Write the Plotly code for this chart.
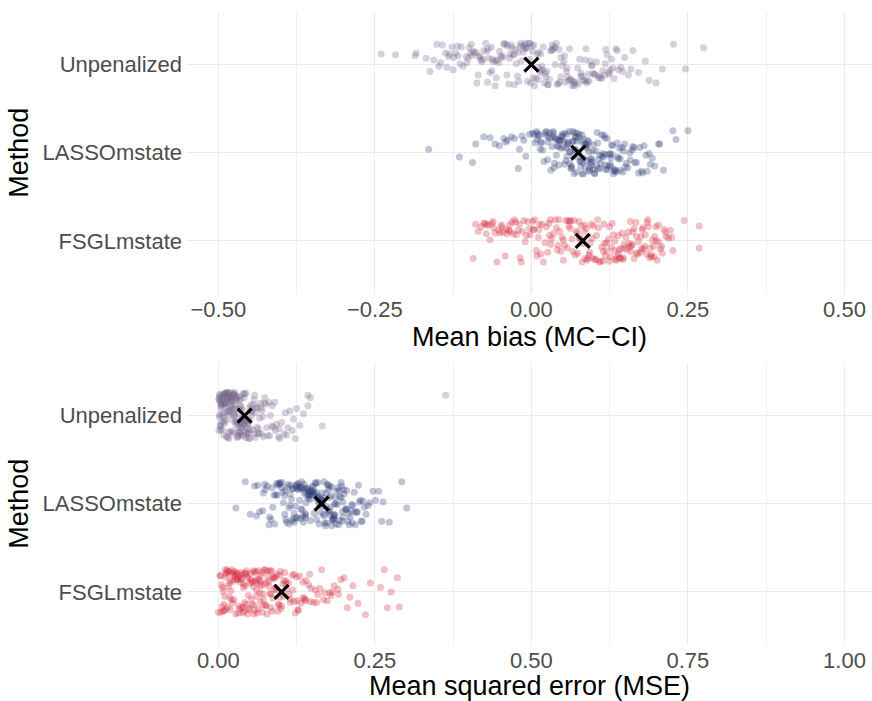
import plotly.graph_objects as go

# ---------------- data ----------------
methods = ["FSGLmstate", "LASSOmstate", "Unpenalized"]   # bottom -> top
method_pos = [1, 2, 3]
colors = ["#d42a40", "#2d3a76", "#76668e"]

bias_ticks = [-0.5, -0.25, 0.0, 0.25, 0.5]
bias_ticktext = ["\u22120.50", "\u22120.25", "0.00", "0.25", "0.50"]
mse_ticks = [0.0, 0.25, 0.5, 0.75, 1.0]
mse_ticktext = ["0.00", "0.25", "0.50", "0.75", "1.00"]

# means (bias panel, MSE panel) in the order of `methods`
bias_means = [0.082, 0.075, 0.000]
mse_means = [0.101, 0.165, 0.042]

unpen_bias = [
    0.012, -0.087, 0.104, -0.031, 0.056, -0.142, 0.003, 0.077, -0.058, 0.121,
    -0.109, 0.034, -0.006, 0.149, -0.073, 0.091, -0.024, 0.018, -0.127, 0.062,
    0.227, -0.045, 0.108, -0.093, 0.041, -0.016, 0.135, -0.066, 0.009, -0.184,
    0.083, -0.038, 0.057, -0.117, 0.026, 0.162, -0.081, 0.047, -0.002, 0.114,
    -0.052, 0.071, -0.137, 0.022, -0.099, 0.096, -0.011, 0.132, -0.068, 0.005,
    0.246, -0.029, 0.067, -0.151, 0.038, -0.085, 0.119, -0.047, 0.088, -0.021,
    0.014, -0.112, 0.143, -0.062, 0.029, -0.004, 0.101, -0.131, 0.052, -0.036,
    -0.240, 0.079, -0.018, 0.126, -0.076, 0.045, -0.104, 0.017, 0.188, -0.055,
    0.061, -0.027, 0.094, -0.162, 0.033, -0.049, 0.111, -0.008, 0.074, -0.121,
    0.275, -0.071, 0.021, -0.035, 0.155, -0.096, 0.049, -0.013, 0.085, -0.145,
    0.007, 0.128, -0.063, 0.036, -0.217, 0.069, -0.025, 0.098, -0.084, 0.011,
    -0.043, 0.117, -0.114, 0.054, 0.002, -0.156, 0.081, -0.032, 0.139, -0.069,
    0.025, -0.091, 0.063, 0.209, -0.014, 0.043, -0.124, 0.107, -0.057, 0.031,
    -0.186, 0.089, -0.040, 0.015, 0.124, -0.079, 0.058, -0.007, 0.199, -0.101,
    -0.022, 0.047, -0.118, 0.092, -0.061, 0.016, 0.137, -0.009, 0.068, -0.095,
    0.038, -0.148, 0.112, -0.034, 0.004, 0.079, -0.077, 0.027, -0.051, 0.159,
    -0.103, 0.059, -0.017, 0.101, -0.132, 0.044, -0.001, 0.086, -0.064, 0.023,
    0.171, -0.044, 0.130, -0.088, 0.011, -0.028, 0.065, -0.168, 0.097, -0.011,
    0.032, -0.125, 0.053, -0.070, 0.118, 0.001, -0.039, 0.182, -0.097, 0.075,
    -0.056, 0.019, 0.146, -0.082, 0.040, -0.135, 0.087, -0.020, 0.124, -0.003,
]
unpen_bias_jit = [
    0.14, -0.21, 0.03, 0.19, -0.08, 0.22, -0.15, 0.06, -0.24, 0.11,
    -0.02, 0.17, -0.19, 0.08, 0.24, -0.11, 0.01, -0.06, 0.20, -0.17,
    0.23, 0.09, -0.13, 0.15, -0.22, 0.04, 0.18, -0.09, 0.12, 0.13,
    -0.18, 0.21, -0.04, 0.10, -0.23, 0.16, 0.05, -0.14, 0.24, -0.07,
    0.02, -0.20, 0.13, -0.10, 0.19, -0.01, 0.22, -0.16, 0.07, -0.24,
    -0.05, 0.11, -0.19, 0.23, 0.00, -0.12, 0.17, 0.08, -0.21, 0.14,
    -0.09, 0.20, -0.03, 0.06, -0.17, 0.24, -0.11, 0.12, 0.03, -0.22,
    0.12, -0.14, 0.21, -0.06, 0.16, -0.20, 0.09, -0.02, -0.18, 0.05,
    0.18, -0.23, 0.04, -0.08, 0.22, 0.10, -0.15, 0.19, -0.04, 0.13,
    0.19, 0.15, -0.21, 0.07, -0.12, 0.23, -0.01, 0.14, -0.18, 0.02,
    -0.16, 0.06, -0.07, 0.20, 0.11, -0.24, 0.17, -0.10, 0.09, -0.03,
    0.24, -0.12, 0.01, -0.20, 0.15, 0.05, -0.13, 0.22, -0.06, 0.18,
    -0.08, 0.13, -0.17, -0.05, 0.21, -0.22, 0.08, -0.15, 0.04, 0.16,
    0.10, -0.19, 0.23, 0.12, -0.09, 0.03, -0.14, 0.19, -0.21, 0.07,
    -0.13, 0.08, 0.21, -0.19, 0.03, -0.07, 0.16, 0.24, -0.22, 0.10,
    0.19, -0.02, -0.16, 0.12, 0.22, -0.10, 0.06, -0.23, 0.15, -0.05,
    0.02, -0.18, 0.24, -0.11, 0.09, 0.17, -0.21, 0.05, 0.20, -0.14,
    -0.09, 0.23, -0.04, 0.14, -0.17, 0.11, -0.24, 0.07, -0.01, 0.18,
    0.16, -0.06, 0.10, -0.20, 0.01, 0.21, -0.12, 0.04, 0.13, -0.22,
    -0.15, 0.20, -0.08, 0.09, 0.24, -0.03, 0.18, -0.19, -0.11, 0.06,
]

lasso_bias = [
    0.082, 0.013, 0.141, -0.021, 0.067, 0.109, 0.035, 0.176, 0.058, 0.094,
    0.121, -0.164, 0.044, 0.073, 0.188, 0.006, 0.131, 0.087, 0.027, 0.152,
    0.061, 0.099, -0.038, 0.115, 0.049, 0.079, 0.203, 0.018, 0.136, 0.071,
    -0.115, 0.092, 0.055, 0.164, 0.031, 0.105, -0.009, 0.084, 0.126, 0.041,
    0.226, 0.064, 0.147, 0.011, 0.097, 0.052, 0.171, -0.094, 0.077, 0.118,
    0.036, 0.089, 0.193, 0.024, 0.133, 0.069, -0.027, 0.111, 0.058, 0.158,
    0.002, 0.101, 0.045, 0.183, -0.089, 0.075, 0.123, 0.033, 0.091, 0.062,
    0.250, 0.015, 0.139, 0.081, -0.051, 0.107, 0.047, 0.168, 0.029, 0.096,
    0.057, -0.076, 0.128, 0.072, 0.211, 0.039, 0.114, 0.004, 0.086, 0.145,
    0.066, 0.020, 0.178, -0.066, 0.103, 0.053, 0.137, 0.083, -0.015, 0.119,
    0.231, 0.043, 0.093, 0.161, 0.010, 0.078, 0.125, -0.044, 0.068, 0.149,
    0.026, 0.112, 0.059, 0.197, 0.088, -0.003, 0.134, 0.048, 0.205, 0.074,
    0.117, 0.037, -0.032, 0.157, 0.063, 0.099, 0.022, 0.142, 0.080, 0.185,
    0.051, 0.127, 0.008, 0.106, -0.019, 0.165, 0.070, 0.040, 0.130, 0.090,
    0.071, 0.118, 0.034, 0.096, 0.053, 0.142, 0.087, 0.009, 0.129, 0.064,
    0.101, 0.045, 0.173, 0.078, 0.023, 0.113, 0.060, 0.150, 0.092, 0.038,
    0.084, 0.132, -0.012, 0.069, 0.107, 0.050, 0.190, 0.076, 0.121, 0.016,
    0.095, 0.057, 0.138, 0.030, 0.083, 0.162, -0.041, 0.104, 0.066, 0.125,
    0.048, 0.089, 0.014, 0.146, 0.073, 0.110, 0.035, 0.180, 0.061, 0.098,
    0.127, 0.042, 0.081, -0.058, 0.116, 0.067, 0.154, 0.026, 0.093, 0.056,
]
lasso_bias_jit = [
    -0.11, 0.20, 0.05, -0.18, 0.13, -0.03, 0.24, -0.21, 0.09, -0.07,
    0.16, 0.04, -0.14, 0.22, -0.01, 0.11, -0.24, 0.07, 0.18, -0.12,
    0.01, -0.19, 0.14, -0.05, 0.21, -0.16, 0.10, 0.03, -0.22, 0.17,
    -0.05, 0.12, -0.09, 0.06, -0.20, 0.23, -0.04, 0.15, -0.13, 0.08,
    0.25, -0.15, 0.02, 0.19, -0.10, 0.13, -0.23, -0.11, 0.21, -0.02,
    -0.17, 0.09, -0.06, 0.24, -0.19, 0.04, 0.16, -0.12, 0.11, -0.08,
    0.22, -0.24, 0.14, -0.03, 0.10, 0.18, -0.15, 0.07, -0.21, 0.01,
    0.25, 0.12, -0.07, 0.20, 0.08, -0.18, 0.05, -0.11, 0.23, -0.14,
    -0.04, 0.18, 0.09, -0.22, -0.20, 0.15, -0.01, 0.21, -0.16, 0.06,
    0.13, -0.10, -0.23, 0.17, 0.02, -0.13, 0.11, -0.06, 0.19, -0.19,
    0.15, 0.07, -0.17, 0.03, 0.22, -0.09, -0.02, 0.16, -0.24, 0.10,
    -0.08, 0.20, 0.12, -0.15, 0.05, 0.21, -0.20, 0.14, 0.10, -0.05,
    0.17, -0.12, 0.18, 0.00, -0.18, 0.09, 0.23, -0.07, 0.13, -0.21,
    0.06, -0.16, 0.24, 0.11, 0.04, -0.11, 0.19, -0.03, 0.08, 0.14,
    0.03, -0.14, 0.18, -0.07, 0.22, -0.20, 0.10, 0.15, -0.02, -0.17,
    -0.23, 0.13, 0.06, -0.10, 0.20, -0.04, 0.24, -0.16, 0.01, 0.17,
    0.09, -0.21, 0.14, 0.23, -0.08, 0.19, -0.13, 0.00, -0.19, 0.11,
    -0.11, 0.21, -0.05, 0.16, -0.24, 0.07, 0.12, -0.15, 0.24, -0.01,
    0.18, -0.09, 0.04, -0.22, 0.13, -0.18, 0.22, 0.08, -0.12, 0.02,
    -0.06, 0.15, -0.24, 0.10, 0.20, -0.03, -0.17, 0.12, -0.20, 0.05,
]

fsgl_bias = [
    0.104, -0.042, 0.167, 0.031, 0.212, -0.071, 0.089, 0.145, 0.008, 0.186,
    -0.018, 0.123, 0.057, 0.199, -0.085, 0.074, 0.158, 0.022, 0.131, -0.055,
    0.096, 0.181, -0.003, 0.142, 0.049, 0.268, -0.036, 0.115, 0.068, 0.206,
    0.015, 0.162, -0.063, 0.083, 0.137, 0.040, 0.193, -0.027, 0.101, 0.175,
    -0.093, 0.061, 0.128, 0.004, 0.219, 0.092, -0.048, 0.153, 0.035, 0.110,
    0.187, -0.010, 0.072, 0.244, 0.026, 0.139, -0.076, 0.098, 0.164, 0.053,
    -0.031, 0.120, 0.011, 0.201, 0.080, -0.058, 0.149, 0.044, 0.170, -0.021,
    0.268, 0.065, 0.126, -0.089, 0.182, 0.019, 0.107, 0.156, -0.006, 0.214,
    0.047, -0.068, 0.133, 0.086, 0.003, 0.195, 0.059, -0.039, 0.118, 0.168,
    0.028, 0.209, -0.014, 0.094, 0.146, -0.080, 0.077, 0.179, 0.038, 0.124,
    -0.050, 0.161, 0.013, 0.222, 0.070, -0.025, 0.140, 0.051, 0.189, -0.060,
    0.112, 0.030, 0.174, -0.008, 0.085, 0.203, -0.045, 0.135, 0.062, 0.151,
    0.002, 0.192, -0.072, 0.099, 0.043, 0.177, -0.016, 0.129, 0.226, 0.078,
    -0.034, 0.143, 0.055, 0.184, -0.002, 0.116, 0.090, 0.197, 0.024, 0.159,
    0.134, -0.024, 0.178, 0.066, -0.061, 0.117, 0.203, 0.009, 0.155, 0.081,
    -0.040, 0.190, 0.106, 0.032, 0.147, -0.074, 0.093, 0.215, 0.051, 0.125,
    0.171, -0.012, 0.139, 0.073, 0.208, 0.017, -0.052, 0.164, 0.097, 0.041,
    0.185, 0.114, -0.029, 0.148, 0.060, 0.196, 0.088, -0.066, 0.132, 0.005,
    0.168, 0.045, 0.224, 0.103, -0.019, 0.157, 0.076, 0.191, 0.029, 0.120,
    -0.047, 0.141, 0.063, 0.176, 0.012, 0.199, 0.108, -0.035, 0.160, 0.084,
]
fsgl_bias_jit = [
    0.06, -0.17, 0.21, -0.04, 0.13, 0.18, -0.22, 0.09, -0.11, 0.24,
    -0.19, 0.02, -0.08, 0.16, 0.11, -0.14, 0.22, -0.02, 0.07, -0.24,
    0.19, -0.06, 0.14, -0.20, 0.04, 0.17, 0.12, -0.12, 0.23, -0.09,
    -0.15, 0.10, 0.20, -0.03, -0.18, 0.15, 0.01, 0.24, -0.21, 0.05,
    -0.20, 0.22, -0.07, 0.13, 0.03, -0.16, 0.18, -0.10, 0.08, -0.23,
    0.16, -0.01, 0.11, 0.23, -0.13, 0.06, 0.20, -0.19, 0.14, -0.05,
    0.21, -0.11, 0.04, -0.22, 0.17, 0.09, -0.08, 0.24, -0.15, 0.12,
    -0.08, 0.02, -0.18, 0.19, 0.07, -0.24, 0.15, -0.03, 0.22, 0.10,
    -0.12, 0.18, 0.00, -0.20, 0.13, -0.06, 0.23, 0.08, -0.17, 0.05,
    0.20, -0.14, 0.11, -0.02, -0.21, 0.16, 0.03, -0.09, 0.24, -0.23,
    0.09, -0.04, 0.19, 0.12, -0.16, 0.21, -0.10, 0.01, -0.19, 0.15,
    -0.07, 0.24, -0.13, 0.06, 0.18, -0.01, 0.10, -0.22, 0.14, 0.04,
    0.22, -0.18, 0.08, 0.17, -0.05, 0.13, -0.24, 0.20, -0.11, 0.02,
    0.11, -0.09, 0.23, -0.15, 0.07, 0.19, -0.20, 0.05, 0.16, -0.12,
    -0.21, 0.07, 0.15, -0.12, 0.22, -0.03, 0.18, -0.17, 0.10, -0.24,
    0.13, -0.08, 0.24, 0.02, -0.19, 0.20, -0.13, 0.05, -0.22, 0.16,
    -0.01, 0.23, -0.15, 0.09, -0.06, 0.19, 0.12, -0.20, 0.03, -0.10,
    0.21, -0.23, 0.08, -0.04, 0.17, -0.18, 0.14, 0.01, -0.11, 0.24,
    -0.14, 0.11, 0.04, -0.21, 0.19, -0.07, 0.22, -0.16, 0.06, -0.02,
    0.16, -0.19, 0.23, -0.09, 0.13, 0.00, -0.24, 0.18, -0.05, 0.10,
]

unpen_mse = [
    0.012, 0.035, 0.004, 0.061, 0.021, 0.047, 0.008, 0.093, 0.029, 0.015,
    0.052, 0.002, 0.074, 0.038, 0.018, 0.109, 0.026, 0.006, 0.043, 0.067,
    0.031, 0.011, 0.085, 0.024, 0.049, 0.001, 0.136, 0.034, 0.016, 0.058,
    0.009, 0.041, 0.079, 0.022, 0.003, 0.054, 0.027, 0.118, 0.014, 0.037,
    0.363, 0.019, 0.063, 0.007, 0.045, 0.028, 0.097, 0.013, 0.032, 0.005,
    0.071, 0.023, 0.040, 0.010, 0.125, 0.036, 0.017, 0.056, 0.002, 0.088,
    0.030, 0.048, 0.012, 0.069, 0.025, 0.166, 0.039, 0.006, 0.020, 0.101,
    0.044, 0.015, 0.060, 0.033, 0.004, 0.082, 0.026, 0.050, 0.009, 0.143,
    0.018, 0.038, 0.072, 0.011, 0.029, 0.114, 0.003, 0.046, 0.021, 0.065,
    0.035, 0.008, 0.090, 0.024, 0.053, 0.014, 0.130, 0.031, 0.001, 0.042,
    0.077, 0.019, 0.057, 0.027, 0.007, 0.105, 0.037, 0.013, 0.123, 0.048,
    0.022, 0.066, 0.004, 0.034, 0.083, 0.016, 0.043, 0.010, 0.059, 0.028,
    0.143, 0.005, 0.039, 0.096, 0.020, 0.051, 0.012, 0.070, 0.032, 0.003,
    0.045, 0.025, 0.086, 0.008, 0.062, 0.017, 0.036, 0.111, 0.023, 0.040,
    0.006, 0.028, 0.051, 0.013, 0.002, 0.039, 0.076, 0.019, 0.044, 0.009,
    0.024, 0.062, 0.004, 0.033, 0.017, 0.098, 0.011, 0.047, 0.027, 0.001,
    0.055, 0.015, 0.036, 0.081, 0.008, 0.022, 0.041, 0.003, 0.068, 0.030,
    0.012, 0.049, 0.020, 0.107, 0.005, 0.034, 0.058, 0.016, 0.026, 0.073,
    0.038, 0.010, 0.046, 0.021, 0.091, 0.007, 0.031, 0.053, 0.014, 0.040,
    0.002, 0.064, 0.025, 0.018, 0.120, 0.035, 0.009, 0.050, 0.029, 0.147,
]
unpen_mse_jit = [
    -0.05, 0.22, -0.16, 0.09, 0.26, -0.21, 0.03, -0.10, 0.17, -0.25,
    0.12, -0.02, 0.20, -0.14, 0.06, -0.22, 0.24, 0.00, -0.18, 0.14,
    -0.08, 0.25, -0.12, 0.07, -0.26, 0.18, 0.02, 0.11, -0.19, 0.23,
    0.15, -0.06, -0.23, 0.21, -0.11, 0.04, 0.19, -0.17, 0.26, -0.03,
    0.23, 0.10, -0.20, 0.16, -0.07, 0.22, -0.15, 0.05, -0.24, 0.13,
    -0.01, -0.18, 0.25, -0.09, 0.08, 0.19, -0.26, 0.12, 0.01, -0.13,
    0.21, -0.04, 0.14, -0.21, 0.24, -0.12, 0.06, -0.16, 0.18, -0.08,
    -0.25, 0.17, 0.03, -0.19, 0.11, -0.23, 0.26, 0.09, -0.02, 0.11,
    0.20, -0.10, -0.24, 0.13, -0.06, 0.05, 0.23, -0.15, 0.16, -0.20,
    0.07, -0.22, 0.15, 0.24, -0.01, 0.20, -0.11, 0.02, -0.17, 0.25,
    -0.14, 0.04, 0.18, -0.07, 0.22, -0.21, 0.10, 0.26, -0.26, -0.09,
    0.16, -0.03, 0.08, -0.18, 0.00, 0.21, -0.12, 0.14, -0.25, 0.19,
    0.23, 0.12, -0.05, -0.24, 0.17, -0.16, 0.25, 0.06, -0.10, 0.15,
    -0.20, 0.01, 0.11, 0.22, -0.13, 0.24, -0.08, -0.14, 0.09, -0.23,
    0.18, -0.11, 0.05, -0.24, 0.21, -0.03, 0.13, -0.18, 0.25, -0.07,
    -0.20, 0.09, 0.16, -0.14, 0.01, -0.26, 0.23, -0.09, 0.12, 0.19,
    -0.16, 0.04, -0.22, 0.15, 0.25, -0.05, 0.20, -0.12, 0.08, -0.25,
    0.10, -0.19, 0.22, 0.03, -0.08, 0.17, -0.21, 0.26, -0.01, 0.14,
    -0.13, 0.24, -0.06, 0.11, -0.17, 0.20, -0.23, 0.06, 0.18, -0.10,
    0.24, -0.15, 0.02, 0.21, -0.04, -0.20, 0.13, -0.26, 0.07, 0.20,
]

lasso_mse = [
    0.162, 0.118, 0.205, 0.087, 0.174, 0.139, 0.231, 0.101, 0.188, 0.152,
    0.066, 0.196, 0.127, 0.168, 0.043, 0.213, 0.145, 0.109, 0.181, 0.134,
    0.224, 0.092, 0.157, 0.199, 0.121, 0.075, 0.171, 0.141, 0.247, 0.113,
    0.185, 0.150, 0.028, 0.166, 0.207, 0.130, 0.097, 0.178, 0.143, 0.219,
    0.293, 0.123, 0.191, 0.082, 0.160, 0.137, 0.236, 0.104, 0.173, 0.148,
    0.201, 0.071, 0.164, 0.125, 0.183, 0.051, 0.217, 0.155, 0.115, 0.194,
    0.132, 0.176, 0.261, 0.095, 0.169, 0.146, 0.209, 0.119, 0.187, 0.058,
    0.301, 0.153, 0.128, 0.227, 0.084, 0.172, 0.140, 0.198, 0.107, 0.161,
    0.189, 0.136, 0.078, 0.215, 0.158, 0.124, 0.242, 0.099, 0.179, 0.144,
    0.111, 0.167, 0.203, 0.133, 0.273, 0.089, 0.185, 0.151, 0.063, 0.221,
    0.170, 0.126, 0.196, 0.106, 0.159, 0.233, 0.138, 0.182, 0.094, 0.163,
    0.147, 0.211, 0.116, 0.175, 0.263, 0.131, 0.192, 0.072, 0.156, 0.205,
    0.120, 0.180, 0.142, 0.228, 0.103, 0.165, 0.197, 0.135, 0.251, 0.112,
    0.154, 0.090, 0.186, 0.129, 0.218, 0.149, 0.108, 0.177, 0.139, 0.200,
    0.171, 0.134, 0.198, 0.115, 0.157, 0.186, 0.126, 0.212, 0.146, 0.081,
    0.178, 0.139, 0.225, 0.102, 0.163, 0.194, 0.121, 0.150, 0.239, 0.133,
    0.168, 0.093, 0.204, 0.145, 0.184, 0.117, 0.175, 0.061, 0.157, 0.214,
    0.128, 0.190, 0.147, 0.106, 0.169, 0.222, 0.137, 0.181, 0.086, 0.160,
    0.199, 0.124, 0.176, 0.140, 0.256, 0.113, 0.187, 0.152, 0.208, 0.098,
    0.166, 0.131, 0.193, 0.074, 0.179, 0.144, 0.230, 0.119, 0.161, 0.185,
]
lasso_mse_jit = [
    0.08, -0.19, 0.15, -0.04, 0.22, -0.13, 0.03, 0.18, -0.23, 0.11,
    -0.09, 0.24, -0.16, 0.06, 0.25, -0.01, 0.13, -0.21, 0.19, -0.07,
    0.21, 0.10, -0.18, 0.02, -0.11, 0.16, -0.25, 0.09, 0.14, -0.05,
    -0.14, 0.20, -0.05, 0.12, -0.20, 0.04, 0.23, -0.10, 0.17, -0.24,
    0.25, -0.03, 0.18, -0.15, 0.07, 0.22, -0.12, 0.01, -0.22, 0.14,
    0.11, -0.08, 0.05, 0.19, -0.17, -0.12, 0.13, 0.24, -0.02, -0.19,
    -0.06, 0.16, -0.20, 0.21, -0.14, 0.09, -0.24, 0.17, 0.00, 0.20,
    -0.05, -0.11, 0.23, 0.04, -0.18, 0.12, 0.18, -0.09, 0.15, -0.23,
    0.14, -0.21, 0.20, -0.02, 0.08, -0.16, 0.01, 0.22, -0.13, 0.06,
    0.19, 0.03, -0.07, 0.25, -0.21, 0.10, -0.17, 0.13, 0.21, -0.10,
    -0.22, 0.17, 0.07, -0.12, 0.24, -0.04, 0.15, -0.19, 0.10, -0.01,
    0.05, -0.15, 0.21, -0.08, 0.02, 0.18, -0.24, 0.12, 0.23, -0.06,
    -0.17, 0.09, 0.16, -0.20, 0.13, -0.03, 0.20, -0.14, 0.04, 0.22,
    0.12, -0.23, 0.00, 0.19, -0.09, 0.11, -0.18, 0.07, -0.11, 0.16,
    -0.03, 0.17, -0.20, 0.11, 0.06, -0.13, 0.22, -0.08, 0.14, -0.24,
    0.20, -0.16, 0.02, 0.24, -0.10, 0.08, -0.21, 0.15, -0.02, 0.19,
    -0.12, 0.23, -0.06, 0.10, -0.18, 0.05, 0.21, -0.14, 0.13, -0.22,
    0.16, -0.01, -0.19, 0.09, 0.25, -0.09, 0.12, -0.25, 0.18, 0.03,
    -0.15, 0.21, -0.07, 0.01, 0.14, -0.23, 0.07, 0.19, -0.11, 0.24,
    0.04, -0.17, 0.15, 0.22, -0.04, 0.11, -0.20, 0.17, 0.00, -0.12,
]

fsgl_mse = [
    0.042, 0.118, 0.007, 0.086, 0.031, 0.159, 0.064, 0.015, 0.103, 0.052,
    0.137, 0.023, 0.078, 0.191, 0.046, 0.096, 0.011, 0.069, 0.127, 0.036,
    0.058, 0.174, 0.020, 0.089, 0.004, 0.112, 0.061, 0.146, 0.033, 0.081,
    0.259, 0.049, 0.105, 0.017, 0.072, 0.201, 0.039, 0.093, 0.055, 0.132,
    0.027, 0.084, 0.165, 0.009, 0.066, 0.121, 0.044, 0.265, 0.098, 0.030,
    0.076, 0.148, 0.013, 0.057, 0.108, 0.038, 0.182, 0.070, 0.025, 0.091,
    0.000, 0.135, 0.048, 0.083, 0.215, 0.019, 0.063, 0.115, 0.035, 0.155,
    0.286, 0.053, 0.099, 0.006, 0.074, 0.140, 0.041, 0.088, 0.170, 0.029,
    0.060, 0.123, 0.016, 0.235, 0.079, 0.045, 0.109, 0.022, 0.067, 0.196,
    0.034, 0.094, 0.144, 0.010, 0.056, 0.270, 0.081, 0.128, 0.037, 0.071,
    0.162, 0.026, 0.101, 0.050, 0.223, 0.003, 0.087, 0.119, 0.043, 0.062,
    0.276, 0.032, 0.139, 0.075, 0.012, 0.185, 0.059, 0.097, 0.024, 0.113,
    0.068, 0.152, 0.040, 0.206, 0.085, 0.018, 0.125, 0.047, 0.289, 0.077,
    0.021, 0.106, 0.065, 0.178, 0.008, 0.092, 0.130, 0.054, 0.243, 0.039,
    0.018, 0.072, 0.036, 0.104, 0.011, 0.058, 0.090, 0.027, 0.147, 0.045,
    0.064, 0.005, 0.082, 0.121, 0.032, 0.053, 0.168, 0.014, 0.076, 0.040,
    0.098, 0.023, 0.060, 0.135, 0.008, 0.049, 0.087, 0.192, 0.030, 0.070,
    0.115, 0.019, 0.056, 0.039, 0.079, 0.157, 0.003, 0.066, 0.028, 0.108,
    0.047, 0.210, 0.013, 0.084, 0.035, 0.126, 0.061, 0.022, 0.095, 0.052,
    0.009, 0.073, 0.180, 0.043, 0.100, 0.026, 0.067, 0.139, 0.016, 0.057,
]
fsgl_mse_jit = [
    -0.12, 0.19, 0.05, -0.22, 0.14, -0.03, 0.24, -0.17, 0.09, 0.21,
    -0.07, 0.12, -0.25, 0.03, 0.18, -0.14, 0.25, 0.07, -0.20, 0.15,
    0.22, -0.10, 0.01, 0.17, -0.23, 0.10, -0.05, 0.20, -0.16, 0.06,
    0.05, -0.19, 0.13, 0.23, -0.08, 0.16, -0.24, 0.02, 0.11, -0.13,
    0.18, -0.02, 0.25, -0.21, 0.08, -0.11, 0.21, 0.25, -0.06, 0.14,
    -0.15, 0.04, 0.20, -0.25, 0.12, -0.18, 0.00, 0.22, -0.09, 0.16,
    -0.23, 0.11, -0.04, 0.24, 0.07, -0.20, 0.15, -0.12, 0.19, 0.02,
    0.16, -0.08, 0.23, -0.17, 0.09, 0.13, -0.22, 0.17, -0.01, 0.21,
    0.10, -0.24, 0.06, -0.26, 0.18, -0.14, 0.03, 0.25, -0.11, 0.14,
    -0.19, 0.20, 0.08, -0.05, 0.24, -0.18, 0.12, -0.21, 0.15, -0.02,
    0.04, 0.23, -0.16, 0.10, -0.13, 0.19, -0.07, 0.02, 0.21, -0.24,
    0.00, 0.16, -0.10, 0.25, -0.20, 0.07, 0.13, -0.15, 0.22, -0.03,
    0.19, -0.12, 0.09, -0.18, 0.24, -0.06, 0.17, -0.25, -0.17, 0.11,
    -0.09, 0.22, 0.14, -0.01, -0.22, 0.05, 0.18, -0.14, 0.10, 0.20,
    0.10, -0.15, 0.22, -0.05, 0.17, -0.21, 0.03, 0.14, -0.11, 0.24,
    -0.19, 0.08, -0.02, 0.20, -0.24, 0.12, -0.09, 0.25, -0.16, 0.05,
    0.19, -0.13, 0.23, -0.07, 0.01, -0.20, 0.15, -0.03, 0.21, -0.23,
    -0.08, 0.13, 0.06, -0.17, 0.24, -0.12, 0.18, -0.01, -0.25, 0.09,
    0.16, -0.06, 0.22, -0.18, 0.11, -0.10, 0.02, 0.20, -0.22, 0.14,
    -0.14, 0.25, -0.04, 0.07, -0.19, 0.18, 0.12, -0.09, 0.23, -0.15,
]

bias_data = [fsgl_bias, lasso_bias, unpen_bias]
bias_jit = [fsgl_bias_jit, lasso_bias_jit, unpen_bias_jit]
mse_data = [fsgl_mse, lasso_mse, unpen_mse]
mse_jit = [fsgl_mse_jit, lasso_mse_jit, unpen_mse_jit]

# ---------------- figure ----------------
W, H = 872, 701
FONT = "Liberation Sans, Arial, sans-serif"

fig = go.Figure()

def add_panel(vals_list, jit_list, means, xa, ya):
    for vals, jit, pos, col in zip(vals_list, jit_list, method_pos, colors):
        n = min(len(vals), len(jit))
        fig.add_trace(go.Scatter(
            x=vals[:n], y=[pos + j for j in jit[:n]],
            mode="markers", xaxis=xa, yaxis=ya, showlegend=False,
            marker=dict(size=7, color=col, opacity=0.3, line=dict(width=0)),
            hoverinfo="skip"))
    fig.add_trace(go.Scatter(
        x=means, y=method_pos, mode="markers", xaxis=xa, yaxis=ya,
        showlegend=False,
        marker=dict(symbol="x-thin", size=14, color="black",
                    line=dict(width=3.2, color="black"))))

add_panel(bias_data, bias_jit, bias_means, "x", "y")
add_panel(mse_data, mse_jit, mse_means, "x2", "y2")

x_dom = [187 / W, 1.0]
top_dom = [1 - 293.8 / H, 1 - 11.6 / H]
bot_dom = [1 - 644.8 / H, 1 - 362.6 / H]

tick_font = dict(family=FONT, size=22, color="#4d4d4d")
title_font = dict(family=FONT, size=27, color="black")
grid_major = "#ebebeb"

def xaxis_cfg(rng, tickvals, ticktext, title, anchor):
    step = tickvals[1] - tickvals[0]
    minor_vals = [(a + b) / 2 for a, b in zip(tickvals[:-1], tickvals[1:])]
    minor_vals += [tickvals[0] - step / 2, tickvals[-1] + step / 2]
    return dict(
        domain=x_dom, range=rng, anchor=anchor,
        tickvals=tickvals, ticktext=ticktext, tickfont=tick_font,
        showgrid=True, gridcolor=grid_major, gridwidth=1.1,
        minor=dict(showgrid=True, gridcolor="#f0f0f0", gridwidth=0.6,
                   tickvals=minor_vals),
        zeroline=False, showline=False, ticks="",
        title=dict(text=title, font=title_font, standoff=5),
        automargin=False,
    )

def yaxis_cfg(dom, anchor):
    return dict(
        domain=dom, range=[0.4, 3.6], anchor=anchor,
        tickvals=method_pos, ticktext=methods, tickfont=tick_font,
        ticklabelstandoff=4,
        showgrid=True, gridcolor=grid_major, gridwidth=1.1,
        zeroline=False, showline=False, ticks="",
        title=dict(text="Method", font=title_font, standoff=6),
        automargin=False,
    )

fig.update_layout(
    width=W, height=H,
    margin=dict(l=0, r=0, t=0, b=0),
    paper_bgcolor="white", plot_bgcolor="white",
    font=dict(family=FONT),
    xaxis=xaxis_cfg([-0.55, 0.544], bias_ticks, bias_ticktext,
                    "Mean bias (MC\u2212CI)", "y"),
    yaxis=yaxis_cfg(top_dom, "x"),
    xaxis2=xaxis_cfg([-0.05, 1.044], mse_ticks, mse_ticktext,
                     "Mean squared error (MSE)", "y2"),
    yaxis2=yaxis_cfg(bot_dom, "x2"),
    shapes=[dict(type="line", xref="x", yref="y domain", x0=0, x1=0, y0=0, y1=1,
                 line=dict(color="#9a9a9a", width=1, dash="dash"), layer="below")],
)

fig.write_html("out.html", config={"displayModeBar": False},
               post_script="document.body.style.margin='0px';")
